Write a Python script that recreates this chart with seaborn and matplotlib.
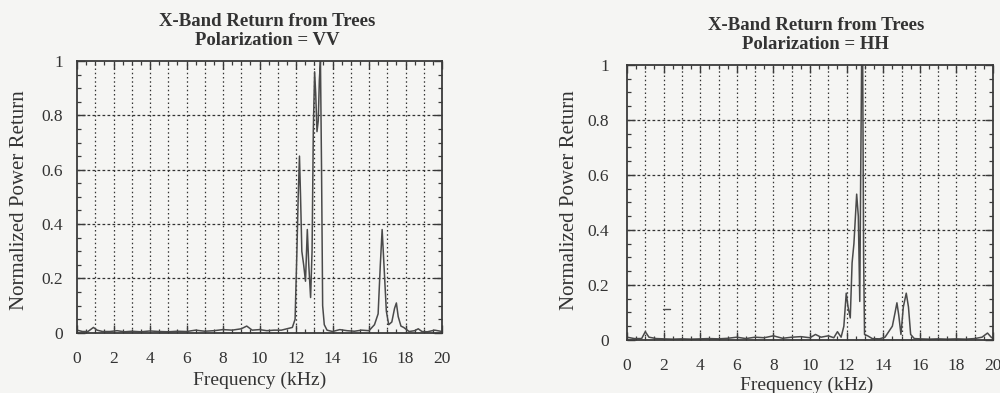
import numpy as np
import pandas as pd
import matplotlib
matplotlib.use("Agg")
import matplotlib.pyplot as plt
import seaborn as sns
from matplotlib.ticker import MultipleLocator, FuncFormatter

# ---- data ----
freq_vv = [0, 0.3, 0.6, 0.9, 1.1, 1.4, 1.8, 2.2, 2.6, 3.0, 3.5, 4.0, 4.5, 5.0, 5.5,
           6.0, 6.5, 7.0, 7.5, 8.0, 8.5, 9.0, 9.3, 9.6, 10.0, 10.4, 10.8, 11.2, 11.5,
           11.8, 11.95, 12.05, 12.12, 12.19, 12.25, 12.32, 12.42, 12.52, 12.62, 12.70,
           12.80, 12.88, 12.95, 13.02, 13.08, 13.15, 13.22, 13.28, 13.34, 13.40, 13.46,
           13.55, 13.7, 14.0, 14.4, 14.8, 15.2, 15.6, 16.0, 16.3, 16.5, 16.62, 16.72,
           16.82, 16.95, 17.08, 17.25, 17.4, 17.5, 17.6, 17.75, 17.9, 18.2, 18.5, 18.7,
           18.9, 19.2, 19.6, 20]
power_vv = [0.01, 0.005, 0.005, 0.02, 0.01, 0.005, 0.005, 0.008, 0.004, 0.006, 0.004,
            0.007, 0.005, 0.004, 0.006, 0.005, 0.01, 0.006, 0.008, 0.012, 0.01, 0.015,
            0.025, 0.01, 0.012, 0.008, 0.01, 0.01, 0.015, 0.02, 0.05, 0.3, 0.5, 0.65,
            0.5, 0.3, 0.25, 0.19, 0.38, 0.25, 0.13, 0.3, 0.75, 0.96, 0.88, 0.74, 0.78,
            0.93, 1.0, 0.6, 0.1, 0.03, 0.01, 0.005, 0.012, 0.008, 0.006, 0.01, 0.008,
            0.03, 0.07, 0.25, 0.38, 0.25, 0.08, 0.03, 0.04, 0.09, 0.11, 0.06, 0.025,
            0.02, 0.005, 0.008, 0.015, 0.005, 0.004, 0.01, 0.005]

freq_hh = [0, 0.4, 0.8, 1.0, 1.2, 1.6, 2.0, 2.5, 3.0, 3.5, 4.0, 4.5, 5.0, 5.5, 6.0,
           6.5, 7.0, 7.5, 8.0, 8.5, 9.0, 9.5, 10.0, 10.3, 10.6, 11.0, 11.3, 11.5, 11.7,
           11.85, 11.98, 12.08, 12.2, 12.3, 12.4, 12.55, 12.64, 12.72, 12.77, 12.82,
           12.88, 12.93, 12.98, 13.15, 13.4, 13.8, 14.1, 14.3, 14.5, 14.65, 14.75,
           14.85, 14.97, 15.1, 15.26, 15.38, 15.5, 15.7, 16.0, 16.5, 17.0, 17.5, 18.0,
           18.5, 19.0, 19.4, 19.7, 19.9, 20]
power_hh = [0.01, 0.005, 0.005, 0.03, 0.01, 0.005, 0.004, 0.003, 0.004, 0.003, 0.004,
            0.005, 0.004, 0.006, 0.01, 0.005, 0.01, 0.008, 0.015, 0.006, 0.01, 0.012,
            0.008, 0.02, 0.01, 0.015, 0.008, 0.03, 0.01, 0.05, 0.17, 0.12, 0.08, 0.28,
            0.35, 0.53, 0.45, 0.14, 0.6, 1.0, 1.0, 0.3, 0.02, 0.015, 0.005, 0.004, 0.01,
            0.03, 0.05, 0.1, 0.135, 0.09, 0.02, 0.12, 0.17, 0.12, 0.02, 0.005, 0.004,
            0.003, 0.004, 0.003, 0.004, 0.003, 0.005, 0.01, 0.025, 0.01, 0.005]

# small stray mark in the HH panel
mark_hh_x = [1.95, 2.35]
mark_hh_y = [0.112, 0.112]

titles = ["X-Band Return from Trees\nPolarization = VV",
          "X-Band Return from Trees\nPolarization = HH"]
xlabel = "Frequency (kHz)"
ylabel = "Normalized Power Return"

# ---- styling ----
sns.set_theme(style="white")
plt.rcParams['font.family'] = ['Liberation Serif', 'DejaVu Serif']
bg = "#f5f5f3"
ink = "#3a3a3a"
txt = "#333333"

fig = plt.figure(figsize=(10, 3.93), dpi=100, facecolor=bg)
ax1 = fig.add_axes([0.077, 0.153, 0.365, 0.692])
ax2 = fig.add_axes([0.627, 0.135, 0.366, 0.700])

df_vv = pd.DataFrame({"f": freq_vv, "p": power_vv})
df_hh = pd.DataFrame({"f": freq_hh, "p": power_hh})

def fmt(v, pos):
    if abs(v) < 1e-9:
        return "0"
    if abs(v - 1) < 1e-9:
        return "1"
    return f"{v:.1f}"

panels = [
    # ax, data, title, ytick pad, xtick pad, title pos, xlabel pos, ylabel pos
    (ax1, df_vv, titles[0], 10, 13, (0.521, 1.110), (0.50, -0.143), (-0.132, 0.489)),
    (ax2, df_hh, titles[1], 13, 13, (0.516, 1.109), (0.492, -0.132), (-0.130, 0.509)),
]

for ax, df, title, ypad, xpad, tpos, xlpos, ylpos in panels:
    ax.set_facecolor(bg)
    sns.lineplot(data=df, x="f", y="p", ax=ax, color="#4a4a4a", lw=1.1)
    ax.set_xlim(0, 20)
    ax.set_ylim(0, 1)
    ax.xaxis.set_major_locator(MultipleLocator(2))
    ax.xaxis.set_minor_locator(MultipleLocator(0.5))
    ax.yaxis.set_major_locator(MultipleLocator(0.2))
    ax.yaxis.set_minor_locator(MultipleLocator(0.05))
    ax.yaxis.set_major_formatter(FuncFormatter(fmt))
    # grid lines
    for xv in range(1, 20):
        ax.axvline(xv, color="#333333", lw=0.9, ls=(0, (1.2, 2.2)), zorder=0.5)
    for yv in [0.2, 0.4, 0.6, 0.8]:
        ax.axhline(yv, color="#333333", lw=0.9, ls=(0, (2.2, 1.8)), zorder=0.5)
    ax.tick_params(which="both", direction="in", top=True, right=True,
                   bottom=True, left=True, color=ink)
    ax.tick_params(which="major", length=6, width=1.0)
    ax.tick_params(which="minor", length=3, width=0.9)
    ax.tick_params(axis="x", which="major", pad=xpad, labelsize=12.5, labelcolor=txt)
    ax.tick_params(axis="y", which="major", pad=ypad, labelsize=12.5, labelcolor=txt)
    for s in ax.spines.values():
        s.set_visible(True)
        s.set_color(ink)
        s.set_linewidth(1.3)
    ax.set_xlabel(xlabel, fontsize=14, color=txt)
    ax.set_ylabel(ylabel, fontsize=15, color=txt)
    ax.xaxis.set_label_coords(*xlpos)
    ax.yaxis.set_label_coords(*ylpos)
    ax.text(tpos[0], tpos[1], title, transform=ax.transAxes, ha="center",
            va="center", fontsize=13.5, fontweight="bold", color=txt,
            linespacing=1.2)

sns.lineplot(x=mark_hh_x, y=mark_hh_y, ax=ax2, color="#4a4a4a", lw=1.0)

fig.savefig("out.png", dpi=100, facecolor=bg)
